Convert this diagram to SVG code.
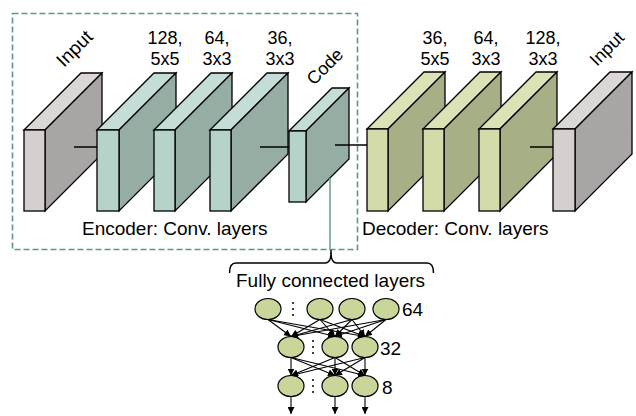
<svg xmlns="http://www.w3.org/2000/svg" width="636" height="416" viewBox="0 0 636 416">
<style>
.f{stroke:#000;stroke-width:1.3;stroke-linejoin:miter}
.inF{fill:#d5cfcf}.inT{fill:#dcd7d7}.inS{fill:#aaa5a5}
.enF{fill:#b6d3ca}.enT{fill:#c4ddd6}.enS{fill:#95ada3}
.deF{fill:#d3dba8}.deT{fill:#dbe2b6}.deS{fill:#a6af86}
.t{font-family:"Liberation Sans",Arial,sans-serif;font-size:19px;fill:#000}
.s{font-size:18px}
.c{text-anchor:middle}
.ln{stroke:#000;stroke-width:1.5;fill:none}
.ar{stroke:#000;stroke-width:1.1;fill:none;marker-end:url(#ah)}
.nd{fill:#c9d69a;stroke:#000;stroke-width:1.2}
</style>
<defs>
<marker id="ah" viewBox="0 0 10 10" refX="10" refY="5" markerWidth="7" markerHeight="7" markerUnits="userSpaceOnUse" orient="auto">
<path d="M0,0 L10,5 L0,10 z" fill="#000"/>
</marker>
</defs>
<rect x="12.5" y="13.5" width="345" height="236" fill="none" stroke="#5a9a80" stroke-width="1.6" stroke-dasharray="6,3"/>
<g id="enc-input">
<polygon class="f inT" points="24,130 81,73 102,73 45,130"/>
<polygon class="f inS" points="45,130 102,73 102,154 45,211"/>
<rect class="f inF" x="24" y="130" width="21" height="81"/>
<text class="t" transform="translate(64,68) rotate(-45)">Input</text>
</g>
<g id="enc-conv1">
<polygon class="f enT" points="97,130 154,73 176,73 119,130"/>
<polygon class="f enS" points="119,130 176,73 176,154 119,211"/>
<rect class="f enF" x="97" y="130" width="22" height="81"/>
<text class="t s c" x="165" y="44">128,</text>
<text class="t s c" x="165" y="65">5x5</text>
</g>
<g id="enc-conv2">
<polygon class="f enT" points="154,130 211,73 232,73 175,130"/>
<polygon class="f enS" points="175,130 232,73 232,154 175,211"/>
<rect class="f enF" x="154" y="130" width="21" height="81"/>
<text class="t s c" x="217" y="44">64,</text>
<text class="t s c" x="217" y="65">3x3</text>
</g>
<g id="enc-conv3">
<polygon class="f enT" points="210,130 267,73 288,73 231,130"/>
<polygon class="f enS" points="231,130 288,73 288,154 231,211"/>
<rect class="f enF" x="210" y="130" width="21" height="81"/>
<text class="t s c" x="280" y="44">36,</text>
<text class="t s c" x="280" y="65">3x3</text>
</g>
<g id="code">
<polygon class="f enT" points="289,131 332,88 349,88 306,131"/>
<polygon class="f enS" points="306,131 349,88 349,159 306,202"/>
<rect class="f enF" x="289" y="131" width="17" height="71"/>
<text class="t s" transform="translate(314,86) rotate(-45)">Code</text>
</g>
<g id="dec-conv1">
<polygon class="f deT" points="367,129 424,72 445,72 388,129"/>
<polygon class="f deS" points="388,129 445,72 445,154 388,211"/>
<rect class="f deF" x="367" y="129" width="21" height="82"/>
<text class="t s c" x="435" y="44">36,</text>
<text class="t s c" x="435" y="65">5x5</text>
</g>
<g id="dec-conv2">
<polygon class="f deT" points="423,129 480,72 501,72 444,129"/>
<polygon class="f deS" points="444,129 501,72 501,154 444,211"/>
<rect class="f deF" x="423" y="129" width="21" height="82"/>
<text class="t s c" x="486" y="44">64,</text>
<text class="t s c" x="486" y="65">3x3</text>
</g>
<g id="dec-conv3">
<polygon class="f deT" points="479,129 536,72 557,72 500,129"/>
<polygon class="f deS" points="500,129 557,72 557,154 500,211"/>
<rect class="f deF" x="479" y="129" width="21" height="82"/>
<text class="t s c" x="543" y="44">128,</text>
<text class="t s c" x="543" y="65">3x3</text>
</g>
<g id="dec-output">
<polygon class="f inT" points="553,129 610,72 632,72 575,129"/>
<polygon class="f inS" points="575,129 632,72 632,154 575,211"/>
<rect class="f inF" x="553" y="129" width="22" height="82"/>
<text class="t s" transform="translate(597,67) rotate(-45)">Input</text>
</g>
<text class="t" x="82" y="235">Encoder: Conv. layers</text>
<text class="t" x="362" y="235">Decoder: Conv. layers</text>
<g id="fc-layers">
<path class="ln" d="M229.5,273 Q229.5,263 236,263 L325,263 Q331,263 331,253 Q331,263 337,263 L427,263 Q433.5,263 433.5,273"/>
<text class="t" x="236" y="287">Fully connected layers</text>
<ellipse class="nd" cx="268" cy="309" rx="13" ry="10.5"/>
<ellipse class="nd" cx="320" cy="309" rx="13" ry="10.5"/>
<ellipse class="nd" cx="352" cy="309" rx="13" ry="10.5"/>
<ellipse class="nd" cx="386" cy="309" rx="13" ry="10.5"/>
<ellipse class="nd" cx="291" cy="347" rx="13" ry="10.5"/>
<ellipse class="nd" cx="335" cy="347" rx="13" ry="10.5"/>
<ellipse class="nd" cx="365" cy="347" rx="13" ry="10.5"/>
<ellipse class="nd" cx="291" cy="386" rx="13" ry="10.5"/>
<ellipse class="nd" cx="335" cy="386" rx="13" ry="10.5"/>
<ellipse class="nd" cx="365" cy="386" rx="13" ry="10.5"/>
<g fill="#000">
<circle cx="293" cy="303" r="1"/><circle cx="293" cy="309" r="1"/><circle cx="293" cy="315" r="1"/>
<circle cx="313" cy="341" r="1"/><circle cx="313" cy="347" r="1"/><circle cx="313" cy="353" r="1"/>
<circle cx="313" cy="380" r="1"/><circle cx="313" cy="386" r="1"/><circle cx="313" cy="392" r="1"/>
</g>
<text class="t" x="402" y="316">64</text>
<text class="t" x="380" y="355">32</text>
<text class="t" x="382" y="394">8</text>
</g>
<g id="connectors">
<line class="ln" x1="74" y1="147" x2="97" y2="147"/>
<line class="ln" x1="260" y1="147" x2="289" y2="147"/>
<line class="ln" x1="335" y1="145" x2="367" y2="145"/>
<line class="ln" x1="530" y1="147" x2="553" y2="147"/>
<line x1="330" y1="178" x2="330" y2="250" stroke="#5a9a80" stroke-width="1.4"/>
<line x1="331" y1="250" x2="331" y2="254" stroke="#000" stroke-width="1.5"/>
<line class="ar" x1="268" y1="319.5" x2="291" y2="336.5"/>
<line class="ar" x1="268" y1="319.5" x2="335" y2="336.5"/>
<line class="ar" x1="268" y1="319.5" x2="365" y2="336.5"/>
<line class="ar" x1="320" y1="319.5" x2="291" y2="336.5"/>
<line class="ar" x1="320" y1="319.5" x2="335" y2="336.5"/>
<line class="ar" x1="320" y1="319.5" x2="365" y2="336.5"/>
<line class="ar" x1="352" y1="319.5" x2="291" y2="336.5"/>
<line class="ar" x1="352" y1="319.5" x2="335" y2="336.5"/>
<line class="ar" x1="352" y1="319.5" x2="365" y2="336.5"/>
<line class="ar" x1="386" y1="319.5" x2="291" y2="336.5"/>
<line class="ar" x1="386" y1="319.5" x2="335" y2="336.5"/>
<line class="ar" x1="386" y1="319.5" x2="365" y2="336.5"/>
<line class="ar" x1="291" y1="357.5" x2="291" y2="375.5"/>
<line class="ar" x1="291" y1="357.5" x2="335" y2="375.5"/>
<line class="ar" x1="291" y1="357.5" x2="365" y2="375.5"/>
<line class="ar" x1="335" y1="357.5" x2="291" y2="375.5"/>
<line class="ar" x1="335" y1="357.5" x2="335" y2="375.5"/>
<line class="ar" x1="335" y1="357.5" x2="365" y2="375.5"/>
<line class="ar" x1="365" y1="357.5" x2="291" y2="375.5"/>
<line class="ar" x1="365" y1="357.5" x2="335" y2="375.5"/>
<line class="ar" x1="365" y1="357.5" x2="365" y2="375.5"/>
<line class="ar" x1="291" y1="396.5" x2="291" y2="414"/>
<line class="ar" x1="335" y1="396.5" x2="335" y2="414"/>
<line class="ar" x1="365" y1="396.5" x2="365" y2="414"/>
</g>
</svg>
